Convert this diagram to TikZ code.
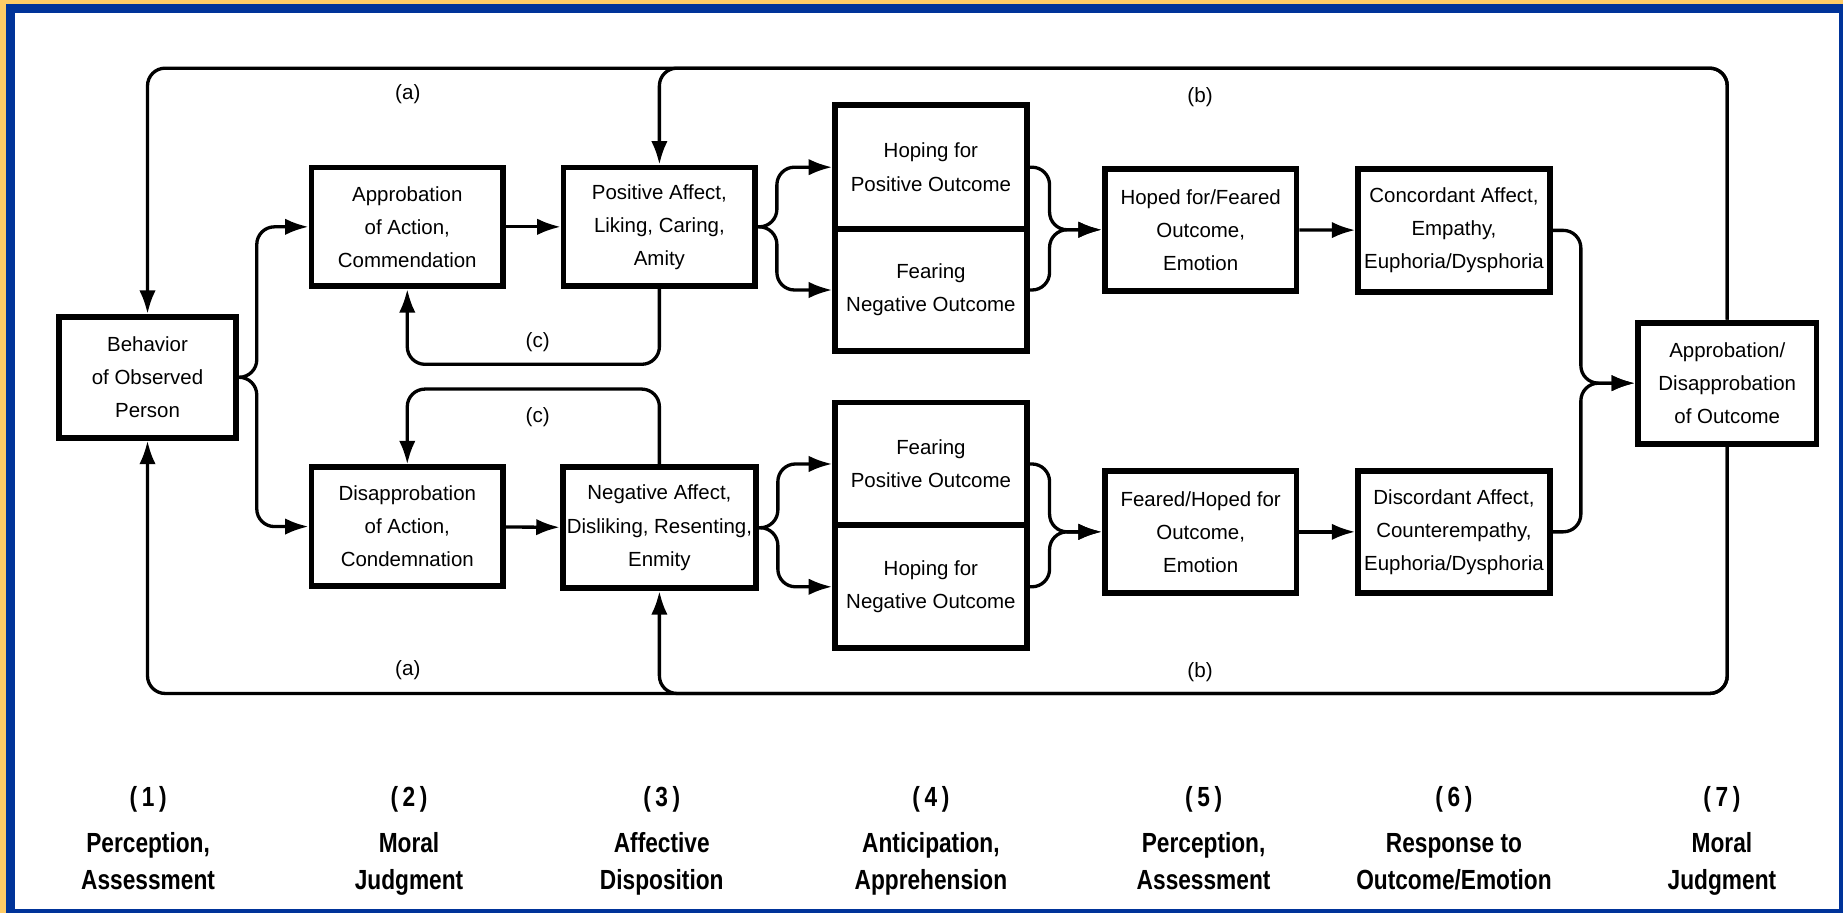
\documentclass[tikz,border=0pt]{standalone}
\usepackage{fontspec}
\setmainfont{Liberation Sans}
\newfontfamily\stagefont{Liberation Sans Bold}[FakeStretch=0.82]
\usetikzlibrary{arrows.meta}

\definecolor{frameblue}{RGB}{0,51,153}
\definecolor{frameyellow}{RGB}{255,204,102}

\tikzset{
	box/.style={draw, line width=1.4pt, minimum width=1.63cm, minimum height=1.01cm,
		align=center, inner sep=1pt, font=\fontsize{4.95}{8}\selectfont},
	link/.style={line width=0.8pt, rounded corners=0.15cm, -{Latex[length=0.2cm,width=0.14cm]}},
	tag/.style={font=\fontsize{5}{8}\selectfont},
	stage/.style={align=center, anchor=north, font=\stagefont\fontsize{6.7}{9.1}\selectfont},
}

\begin{document}
\begin{tikzpicture}
		% frame
		\fill[frameyellow] (0,0) rectangle (15.68,7.77);
		\fill[frameblue] (0.051,0) rectangle (15.68,7.736);
		\fill[white] (0.128,0.037) rectangle (15.646,7.66);
		
		\coordinate (topln) at (0,7.19);
		\coordinate (botln) at (0,1.87);
		
		\node[box, minimum width=1.51cm, minimum height=1.03cm] (beh) at (1.255,4.56) {Behavior\\of Observed\\Person};
		
		\node[box] (appA) at (3.465,5.84) {Approbation\\of Action,\\Commendation};
		\node[box] (posA) at (5.61,5.84) {Positive Affect,\\Liking, Caring,\\Amity};
		\node[box, minimum height=1.055cm] (hopP) at (7.92,6.3475) {Hoping for\\Positive Outcome};
		\node[box, minimum height=1.035cm] (fearN) at (7.92,5.3025) {Fearing\\Negative Outcome};
		\node[box, minimum height=1.04cm] (hoped) at (10.215,5.815) {Hoped for/Feared\\Outcome,\\Emotion};
		\node[box, minimum height=1.05cm] (conc) at (12.37,5.81) {Concordant Affect,\\Empathy,\\Euphoria/Dysphoria};
		
		\node[box] (disA) at (3.465,3.29) {Disapprobation\\of Action,\\Condemnation};
		\node[box, minimum height=1.03cm] (negA) at (5.61,3.28) {Negative Affect,\\Disliking, Resenting,\\Enmity};
		\node[box, minimum height=1.045cm] (fearP) at (7.92,3.8225) {Fearing\\Positive Outcome};
		\node[box, minimum height=1.045cm] (hopN) at (7.92,2.7775) {Hoping for\\Negative Outcome};
		\node[box, minimum height=1.04cm] (feared) at (10.215,3.245) {Feared/Hoped for\\Outcome,\\Emotion};
		\node[box, minimum height=1.04cm] (disc) at (12.37,3.245) {Discordant Affect,\\Counterempathy,\\Euphoria/Dysphoria};
		
		\node[box, minimum width=1.52cm, minimum height=1.03cm] (outc) at (14.695,4.51) {Approbation/\\Disapprobation\\of Outcome};
		
		% forward paths
		\draw[link] (beh.east) -- ++(0.15,0) |- (appA.west);
		\draw[link] (beh.east) -- ++(0.15,0) |- (disA.west);
		\draw[link] (appA) -- (posA);
		\draw[link] (disA) -- (negA);
		\draw[link] (posA.east) -- ++(0.16,0) |- (hopP.west);
		\draw[link] (posA.east) -- ++(0.16,0) |- (fearN.west);
		\draw[link] (negA.east) -- ++(0.16,0) |- (fearP.west);
		\draw[link] (negA.east) -- ++(0.16,0) |- (hopN.west);
		\draw[link] (hopP.east) -- ++(0.17,0) |- (hoped.west);
		\draw[link] (fearN.east) -- ++(0.17,0) |- (hoped.west);
		\draw[link] (fearP.east) -- ++(0.17,0) |- (feared.west);
		\draw[link] (hopN.east) -- ++(0.17,0) |- (feared.west);
		\draw[link] (hoped) -- (conc);
		\draw[link] (feared) -- (disc);
		\draw[link] (conc.east) -- ++(0.24,0) |- (outc.west);
		\draw[link] (disc.east) -- ++(0.24,0) |- (outc.west);
		
		% feedback (c)
		\draw[link] (posA.south) -- ++(0,-0.64) -| (appA.south);
		\draw[link] (negA.north) -- ++(0,0.64) -| (disA.north);
		\node[tag] (c1) at (4.575,4.86) {(c)};
		\node[tag] (c2) at (4.575,4.22) {(c)};
		
		% feedback (a) and (b)
		\draw[link] (outc.north) -- (outc.north |- topln) -- (beh.north |- topln) -- (beh.north);
		\draw[link] (outc.north) -- (outc.north |- topln) -- (posA.north |- topln) -- (posA.north);
		\draw[link] (outc.south) -- (outc.south |- botln) -- (beh.south |- botln) -- (beh.south);
		\draw[link] (outc.south) -- (outc.south |- botln) -- (negA.south |- botln) -- (negA.south);
		\node[tag] (a1) at (3.47,6.97) {(a)};
		\node[tag] (b1) at (10.21,6.94) {(b)};
		\node[tag] (a2) at (3.47,2.07) {(a)};
		\node[tag] (b2) at (10.21,2.05) {(b)};
		
		% stages
		\node[stage] (s1) at (1.26,1.205) {(\,1\,)\\[2pt]Perception,\\Assessment};
		\node[stage] (s2) at (3.48,1.205) {(\,2\,)\\[2pt]Moral\\Judgment};
		\node[stage] (s3) at (5.63,1.205) {(\,3\,)\\[2pt]Affective\\Disposition};
		\node[stage] (s4) at (7.92,1.205) {(\,4\,)\\[2pt]Anticipation,\\Apprehension};
		\node[stage] (s5) at (10.24,1.205) {(\,5\,)\\[2pt]Perception,\\Assessment};
		\node[stage] (s6) at (12.37,1.205) {(\,6\,)\\[2pt]Response to\\Outcome/Emotion};
		\node[stage] (s7) at (14.65,1.205) {(\,7\,)\\[2pt]Moral\\Judgment};
	
	\end{tikzpicture}
\end{document}
